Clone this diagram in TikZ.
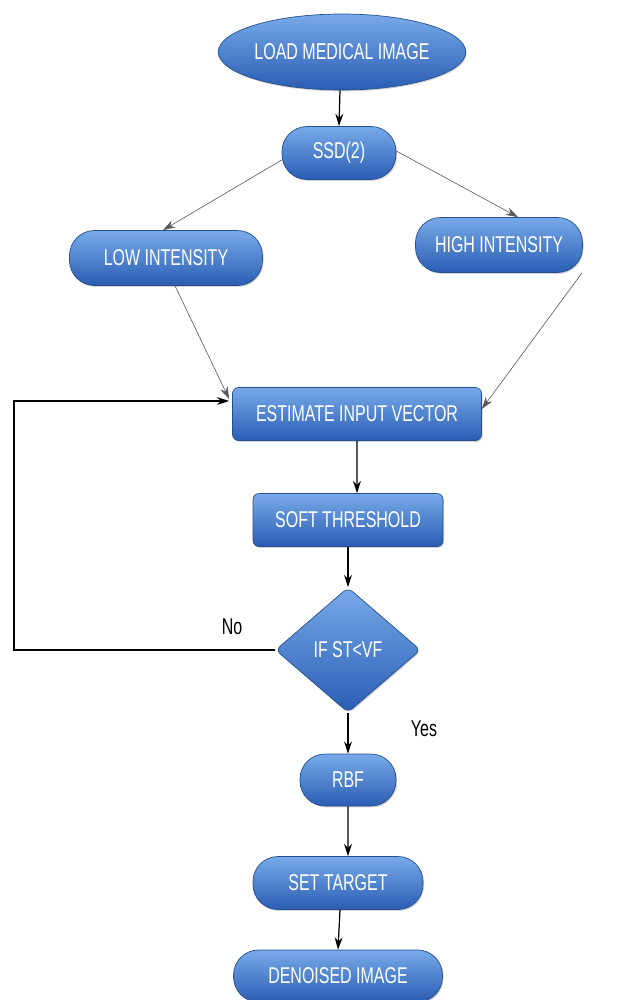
\documentclass[tikz,border=0pt]{standalone}
\usepackage{fontspec}
\setmainfont{Liberation Sans}[FakeStretch=0.7]
\usetikzlibrary{shapes.geometric,arrows.meta,shadows}
\definecolor{bluetop}{HTML}{78AAEA}
\definecolor{bluebot}{HTML}{2A5DB3}
\definecolor{blueedge}{HTML}{24508F}
\begin{document}
\begin{tikzpicture}[x=0.02cm,y=-0.02cm,
  blk/.style={draw=blueedge, line width=0.4pt, top color=bluetop, bottom color=bluebot,
    text=white, font=\fontsize{13}{15}\selectfont, inner sep=0pt,
    drop shadow={shadow xshift=0.6pt, shadow yshift=-0.8pt, opacity=0.35}},
  pill/.style={blk, rectangle, rounded corners=0.5cm},
  boxr/.style={blk, rectangle, rounded corners=0.12cm},
  lbl/.style={font=\fontsize{13}{15}\selectfont},
  arr/.style={-{Stealth[length=7pt,width=4.5pt]}, line width=0.7pt, black},
  thin/.style={-{Stealth[length=7pt,width=4.5pt]}, line width=0.35pt, black!65}]
\useasboundingbox (0,0) rectangle (618,1000);
\node[blk, ellipse, minimum width=4.38cm, minimum height=1.52cm] (load) at (342,52) {LOAD MEDICAL IMAGE};
\node[pill, minimum width=2.28cm, minimum height=1.06cm] (ssd) at (339,153) {SSD(2)};
\node[pill, minimum width=3.86cm, minimum height=1.1cm] (low) at (166,258) {LOW INTENSITY};
\node[pill, minimum width=3.34cm, minimum height=1.1cm] (high) at (499,245) {HIGH INTENSITY};
\node[boxr, minimum width=4.98cm, minimum height=1.06cm] (est) at (357,414) {ESTIMATE INPUT VECTOR};
\node[boxr, minimum width=3.8cm, minimum height=1.06cm] (soft) at (348,520) {SOFT THRESHOLD};
\node[blk, diamond, rounded corners=0.12cm, minimum width=2.9cm, minimum height=2.5cm] (dec) at (348,650) {IF ST<VF};
\node[pill, minimum width=1.92cm, minimum height=1.04cm] (rbf) at (348,780) {RBF};
\node[pill, minimum width=3.4cm, minimum height=1.06cm] (set) at (338,883) {SET TARGET};
\node[pill, minimum width=4.18cm, minimum height=1.04cm] (den) at (338,976) {DENOISED IMAGE};

\node[lbl] (no) at (232,627) {No};
\node[lbl] (yes) at (424,729) {Yes};

\draw[arr] ([xshift=-0.04cm]load.south) -- (ssd.north);
\draw[thin] ([yshift=-0.14cm]ssd.west) -- ([xshift=-0.06cm]low.north);
\draw[thin] ([yshift=0.04cm]ssd.east) -- ([xshift=0.38cm]high.north);
\draw[thin] ([xshift=0.18cm]low.south) -- ([yshift=0.3cm,xshift=-0.06cm]est.west);
\draw[thin] ([xshift=1.66cm]high.south) -- ([yshift=0.1cm]est.east);
\draw[arr] (est.south) -- ([xshift=0.18cm]soft.north);
\draw[arr] (soft.south) -- (dec.north);
\draw[arr] (dec.south) -- (rbf.north);
\draw[arr] (rbf.south) -- ([xshift=0.2cm]set.north);
\draw[arr] ([xshift=0.04cm]set.south) -- (den.north);
\coordinate (lc) at (14,650);
\draw[arr] (dec.west) -- (lc) |- ([yshift=0.26cm,xshift=-0.06cm]est.west);
\end{tikzpicture}
\end{document}
